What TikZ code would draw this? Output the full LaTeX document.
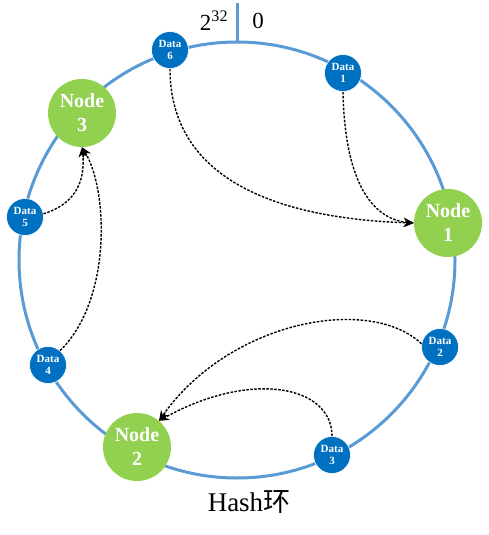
\documentclass[tikz,border=0pt]{standalone}
\usepackage{fontspec}
\setmainfont{Liberation Serif}
\newfontfamily\cjk{Noto Sans CJK SC}
\usetikzlibrary{arrows.meta}
\definecolor{ringblue}{RGB}{91,155,213}
\definecolor{datablue}{RGB}{0,112,192}
\definecolor{nodegreen}{RGB}{146,208,80}
\begin{document}
\begin{tikzpicture}[x=1pt,y=-1pt,
  datanode/.style={circle, fill=datablue, draw=white, line width=0.6pt, minimum size=37pt, inner sep=0pt, text=white, font=\bfseries\fontsize{11}{12}\selectfont, align=center},
  hashnode/.style={circle, fill=nodegreen, minimum size=68pt, inner sep=0pt, text=white, font=\bfseries\fontsize{20}{24}\selectfont, align=center},
  link/.style={dash pattern=on 2.5pt off 1.5pt, line width=1.4pt, -{Stealth[length=10pt,width=9pt]}},
  lbl/.style={inner sep=0pt, font=\fontsize{23}{25}\selectfont}]
\useasboundingbox (0,0) rectangle (488,535);
\fill[white] (0,0) rectangle (488,535);
\draw[ringblue, line width=3pt] (237,260) circle[radius=218pt];
\coordinate (ctop) at (237,3);
\coordinate (cbot) at (237,43);
\draw[ringblue, line width=3pt] (ctop) -- (cbot);
\node[lbl] (p32) at (214,21) {2\textsuperscript{32}};
\node[lbl] (zero) at (258,21) {0};
\node[inner sep=0pt, font=\fontsize{27}{29}\selectfont] (title) at (249,502) {Hash{\cjk 环}};

\node[hashnode] (n1) at (448,223) {Node\\1};
\node[hashnode] (n2) at (137,447) {Node\\2};
\node[hashnode] (n3) at (82,113) {Node\\3};

\node[datanode] (d1) at (343,73) {Data\\1};
\node[datanode] (d2) at (440,347) {Data\\2};
\node[datanode] (d3) at (332,455) {Data\\3};
\node[datanode] (d4) at (48,365) {Data\\4};
\node[datanode] (d5) at (25,217) {Data\\5};
\node[datanode] (d6) at (170,50) {Data\\6};

\draw[link] (d6.south) .. controls (170,170) and (260,218) .. (n1.west);
\draw[link] (d1.south) .. controls (345,195) and (380,220) .. (n1.west);
\draw[link] (d5.10) .. controls (72,205) and (86,185) .. (n3.south);
\draw[link] (d4.50) .. controls (112,300) and (108,190) .. (n3.south);
\draw[link] (d2.170) .. controls (370,295) and (230,320) .. (n2.50);
\draw[link] (d3.north) .. controls (332,385) and (250,370) .. (n2.50);
\end{tikzpicture}
\end{document}
